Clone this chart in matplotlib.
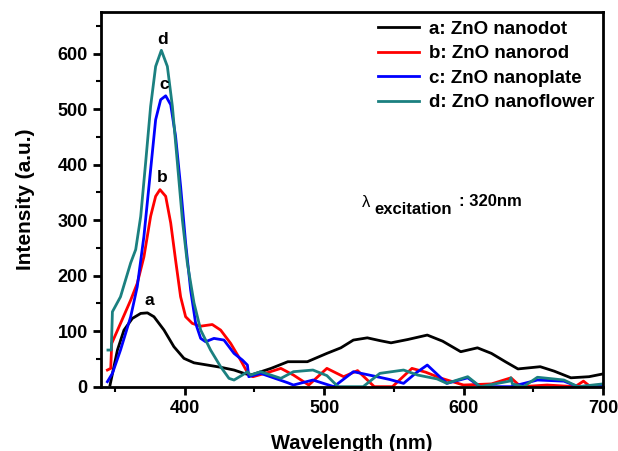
import matplotlib
matplotlib.use("Agg")
import matplotlib.pyplot as plt
from matplotlib.ticker import MultipleLocator

plt.rcParams["font.family"] = ["Liberation Sans", "DejaVu Sans"]
plt.rcParams["font.weight"] = "bold"

# curve a: ZnO nanodot (black)
wl_a = [346.5, 351.8, 356.5, 362.5, 368.5, 373.3, 378, 385.2, 392.3, 399.5, 406.7, 416.3, 425.8,
        435.4, 442.5, 447, 450, 462, 474, 488, 502, 512, 521, 531, 540, 548, 560, 574, 585,
        598, 610, 620, 630, 639, 655, 665, 677, 690, 700]
int_a = [3, 66, 102, 123, 132, 133, 126, 102, 72, 51, 43, 39, 35,
         30, 24, 21, 23, 33, 45, 45, 60, 70, 84, 88, 83, 79, 85, 93, 82,
         63, 70, 60, 45, 32, 36, 28, 16, 18, 23]

# curve b: ZnO nanorod (red)
wl_b = [344.6, 347, 347.7, 354, 361.3, 366, 370.8, 375.6, 379.2, 382.3, 386.4, 390, 393.5,
        397.1, 400.7, 405.5, 411.5, 419.8, 425.8, 433, 440.1, 446, 449, 459, 469, 478, 489,
        502, 514, 524, 536, 549, 563, 573, 583, 600, 620, 634, 641, 660, 680, 686, 690, 700]
int_b = [30, 33, 78, 114, 156, 186, 234, 307, 343, 355, 343, 295, 228,
         162, 126, 114, 109, 112, 102, 78, 48, 21, 18, 25, 33, 21, 3,
         33, 18, 29, 0, 0, 33, 26, 16, 3, 5, 16, 0, 3, 0, 10, 2, 3]

# curve c: ZnO nanoplate (blue)
wl_c = [344.6, 348.2, 354, 361.3, 366, 370.8, 375.6, 379.2, 382.8, 386.4, 390, 393.5, 397.1,
        400.7, 404.3, 407.9, 411.5, 415, 421, 428.2, 435.4, 441.4, 445, 446, 454.5, 466, 474,
        478, 492, 507, 521, 536, 547, 557, 566, 574, 588, 603, 612, 634, 653, 672, 682, 700]
int_c = [9, 24, 66, 126, 180, 271, 391, 481, 517, 524, 508, 451, 361,
         259, 174, 114, 87, 81, 87, 84, 60, 48, 39, 18, 24, 14, 7,
         3, 12, 0, 27, 19, 13, 6, 25, 39, 6, 16, 0, 0, 12, 10, 0, 3]

# curve d: ZnO nanoflower (teal)
wl_d = [345, 347.4, 348.2, 354, 361.3, 364.9, 368.5, 372, 375.6, 379.2, 383.3, 387.6, 391.2,
        394.8, 398.4, 401.9, 406.7, 411.5, 418.6, 425.8, 431.8, 435.4, 441.4, 445, 447.3,
        454.5, 469, 478, 492, 502, 510, 528, 540, 557, 567, 581, 588, 603, 612, 633, 634,
        635, 643, 653, 672, 682, 700]
int_d = [66, 66, 135, 162, 223, 247, 307, 403, 505, 577, 606, 577, 505,
         403, 300, 223, 151, 102, 66, 36, 15, 12, 21, 27, 21,
         27, 15, 27, 30, 20, 0, 0, 24, 30, 21, 14, 6, 18, 0, 10, 16,
         5, 0, 17, 12, 0, 5]

series = [
    (wl_a, int_a, "black", "a: ZnO nanodot"),
    (wl_b, int_b, "#ff0000", "b: ZnO nanorod"),
    (wl_c, int_c, "#0000ff", "c: ZnO nanoplate"),
    (wl_d, int_d, "#1b8080", "d: ZnO nanoflower"),
]

# peak letters
peak_labels = ["a", "b", "c", "d"]
peak_x = [374.4, 384, 385, 384]
peak_y = [156, 377, 544, 625]

fig = plt.figure(figsize=(6.18, 4.51), dpi=100)
ax = fig.add_axes([0.1634, 0.1426, 0.8123, 0.8308])

for wl, inten, col, lab in series:
    ax.plot(wl, inten, color=col, lw=2, label=lab)

for lab, px, py in zip(peak_labels, peak_x, peak_y):
    ax.text(px, py, lab, ha="center", va="center", fontsize=12.5, fontweight="bold")

# excitation note
ax.text(527.4, 332, "\u03bb", fontsize=12, fontweight="normal", ha="left", va="center")
ax.text(536.0, 318.6, "excitation", fontsize=12, fontweight="bold", ha="left", va="center")
ax.text(596.4, 334, ": 320nm", fontsize=12, fontweight="bold", ha="left", va="center")

ax.set_xlim(340, 700)
ax.set_ylim(0, 675)
ax.xaxis.set_major_locator(MultipleLocator(100))
ax.xaxis.set_minor_locator(MultipleLocator(50))
ax.yaxis.set_major_locator(MultipleLocator(100))
ax.yaxis.set_minor_locator(MultipleLocator(50))
ax.tick_params(which="major", direction="out", length=6, width=2, labelsize=13)
ax.tick_params(which="minor", direction="out", length=3.5, width=1.5)
for s in ax.spines.values():
    s.set_linewidth(2)
for t in ax.get_xticklabels() + ax.get_yticklabels():
    t.set_fontweight("bold")

ax.set_xlabel("Wavelength (nm)", fontsize=14.5, fontweight="bold", labelpad=12)
ax.set_ylabel("Intensity (a.u.)", fontsize=15, fontweight="bold", labelpad=16)

leg = ax.legend(loc="upper right", frameon=False, fontsize=13.5, handlelength=2.2,
                borderaxespad=0.05, labelspacing=0.4, handletextpad=0.55)

fig.savefig("out.png", dpi=100)
